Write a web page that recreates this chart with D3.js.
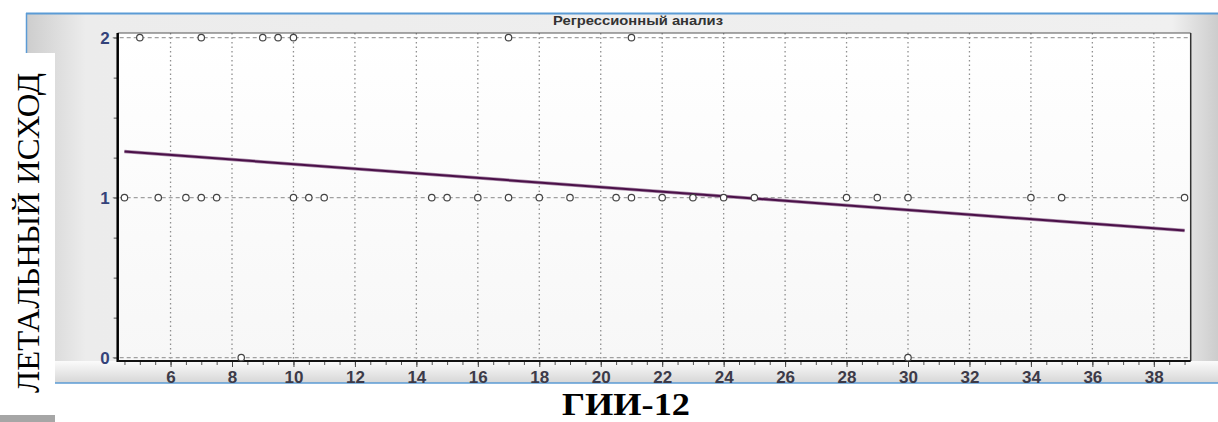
<!DOCTYPE html>
<html>
<head>
<meta charset="utf-8">
<script src="https://cdn.jsdelivr.net/npm/d3@7"></script>
<style>
  body { margin: 0; background: #fff; }
  svg { display: block; }
</style>
</head>
<body>
<script>
// data
var pointsTop = [5, 7, 9, 9.5, 10, 17, 21];                       // outcome = 2
var pointsMid = [4.5, 5.6, 6.5, 7, 7.5, 10, 10.5, 11, 14.5, 15, 16, 17, 18, 19,
                 20.5, 21, 22, 23, 24, 25, 28, 29, 30, 34, 35, 39]; // outcome = 1
var pointsLow = [8.3, 30];                                        // outcome = 0
var regLine = [{x: 4.5, y: 1.288}, {x: 39, y: 0.794}];
var xTicks = [6, 8, 10, 12, 14, 16, 18, 20, 22, 24, 26, 28, 30, 32, 34, 36, 38];
var yTicks = [0, 1, 2];

var width = 1218;
var height = 422;
var svg = d3.select('body')
    .append("svg")
    .attr("width", width)
    .attr("height", height);

var defs = svg.append("defs");
var g1 = defs.append("linearGradient").attr("id", "frameGrad")
    .attr("x1", 0).attr("x2", 1).attr("y1", 0).attr("y2", 0);
g1.append("stop").attr("offset", "0%").attr("stop-color", "#cdcdcd");
g1.append("stop").attr("offset", "5%").attr("stop-color", "#ececec");
g1.append("stop").attr("offset", "96%").attr("stop-color", "#f0f0f0");
g1.append("stop").attr("offset", "100%").attr("stop-color", "#cbcbcb");
var g2 = defs.append("linearGradient").attr("id", "bottomGrad")
    .attr("x1", 0).attr("x2", 0).attr("y1", 0).attr("y2", 1);
g2.append("stop").attr("offset", "0%").attr("stop-color", "#fbfbfb");
g2.append("stop").attr("offset", "100%").attr("stop-color", "#d6d6d6");
var g3 = defs.append("linearGradient").attr("id", "plotGrad")
    .attr("x1", 0).attr("x2", 0).attr("y1", 0).attr("y2", 1);
g3.append("stop").attr("offset", "0%").attr("stop-color", "#ffffff");
g3.append("stop").attr("offset", "100%").attr("stop-color", "#f7f7f7");

// window frame
var frame = {left: 26, top: 13, bottom: 383};
svg.append("rect")
    .attr("x", frame.left).attr("y", frame.top)
    .attr("width", width - frame.left + 2).attr("height", frame.bottom - frame.top)
    .attr("fill", "url(#frameGrad)");
svg.append("rect")
    .attr("x", frame.left).attr("y", 361)
    .attr("width", width - frame.left).attr("height", frame.bottom - 361)
    .attr("fill", "url(#bottomGrad)");
svg.append("line")
    .attr("x1", frame.left).attr("x2", width).attr("y1", frame.top + 0.5).attr("y2", frame.top + 0.5)
    .attr("stroke", "#5b9bd5").attr("stroke-width", 2);
svg.append("line")
    .attr("x1", frame.left).attr("x2", width).attr("y1", frame.bottom).attr("y2", frame.bottom)
    .attr("stroke", "#5b9bd5").attr("stroke-width", 1.5);
svg.append("line")
    .attr("x1", frame.left + 0.5).attr("x2", frame.left + 0.5).attr("y1", frame.top).attr("y2", frame.bottom)
    .attr("stroke", "#5b9bd5").attr("stroke-width", 1.5);

var plot = {left: 117.7, right: 1190.7, top: 33, bottom: 361};

var x = d3.scaleLinear().domain([4.28, 39.2]).range([plot.left, plot.right]);
var y = d3.scaleLinear().domain([-0.021, 2.029]).range([plot.bottom, plot.top]);

svg.append("rect")
    .attr("x", plot.left).attr("y", plot.top)
    .attr("width", plot.right - plot.left).attr("height", plot.bottom - plot.top)
    .attr("fill", "url(#plotGrad)");

svg.append("text")
    .attr("x", 638).attr("y", 25)
    .attr("text-anchor", "middle")
    .attr("font-family", "Liberation Sans, Arial, sans-serif")
    .attr("font-size", 12)
    .attr("font-weight", "bold")
    .attr("fill", "#333")
    .attr("textLength", 170)
    .attr("lengthAdjust", "spacingAndGlyphs")
    .text("Регрессионный анализ");

// grid
svg.append("g").selectAll("line")
    .data(xTicks)
    .enter().append("line")
    .attr("x1", function (d) { return x(d); })
    .attr("x2", function (d) { return x(d); })
    .attr("y1", plot.top).attr("y2", plot.bottom)
    .attr("stroke", "#8f8f8f").attr("stroke-width", 1.3)
    .attr("stroke-dasharray", "1.5,3");
svg.append("g").selectAll("line")
    .data(yTicks)
    .enter().append("line")
    .attr("x1", plot.left - 5).attr("x2", plot.right)
    .attr("y1", function (d) { return y(d); })
    .attr("y2", function (d) { return y(d); })
    .attr("stroke", "#a0a0a0").attr("stroke-width", 1.3)
    .attr("stroke-dasharray", "4,3");

// borders
svg.append("line")
    .attr("x1", plot.left).attr("x2", plot.right).attr("y1", plot.top).attr("y2", plot.top)
    .attr("stroke", "#555").attr("stroke-width", 1);
svg.append("line")
    .attr("x1", plot.right).attr("x2", plot.right).attr("y1", plot.top).attr("y2", plot.bottom)
    .attr("stroke", "#333").attr("stroke-width", 1.5);

// minor ticks
var xMinor = d3.range(4.5, 39.01, 0.5);
var yMinor = d3.range(0, 2.01, 0.25);
svg.append("g")
    .attr("transform", "translate(0," + plot.bottom + ")")
    .call(d3.axisBottom(x).tickValues(xMinor).tickSize(4).tickFormat(""))
    .call(function (g) { g.select(".domain").remove(); })
    .selectAll("line").attr("stroke", "#555");
svg.append("g")
    .attr("transform", "translate(" + plot.left + ",0)")
    .call(d3.axisLeft(y).tickValues(yMinor).tickSize(4).tickFormat(""))
    .call(function (g) { g.select(".domain").remove(); })
    .selectAll("line").attr("stroke", "#555");

// major axes
var xAxisGroup = svg.append("g")
    .attr("transform", "translate(0," + plot.bottom + ")")
    .call(d3.axisBottom(x).tickValues(xTicks).tickSize(6).tickPadding(4).tickFormat(d3.format("d")));
xAxisGroup.select(".domain").remove();
xAxisGroup.selectAll("line").attr("stroke", "#444");
xAxisGroup.attr("font-size", null).attr("font-family", null);
xAxisGroup.selectAll("text")
    .style("font-family", "Liberation Sans, Arial, sans-serif")
    .style("font-size", "17px").style("font-weight", "bold")
    .attr("fill", "#3c3a48");

var yAxisGroup = svg.append("g")
    .attr("transform", "translate(" + plot.left + ",0)")
    .call(d3.axisLeft(y).tickValues(yTicks).tickSize(0).tickPadding(8).tickFormat(d3.format("d")));
yAxisGroup.select(".domain").remove();
yAxisGroup.attr("font-size", null).attr("font-family", null);
yAxisGroup.selectAll("text")
    .style("font-family", "Liberation Sans, Arial, sans-serif")
    .style("font-size", "17px").style("font-weight", "bold")
    .attr("fill", "#34437a");

svg.append("line")
    .attr("x1", plot.left).attr("x2", plot.left).attr("y1", plot.top).attr("y2", plot.bottom + 1)
    .attr("stroke", "#000").attr("stroke-width", 2.5);
svg.append("line")
    .attr("x1", plot.left).attr("x2", plot.right).attr("y1", plot.bottom).attr("y2", plot.bottom)
    .attr("stroke", "#111").attr("stroke-width", 2);

// regression line
var line = d3.line().x(function (d) { return x(d.x); }).y(function (d) { return y(d.y); });
svg.append("path").datum(regLine).attr("d", line)
    .attr("fill", "none").attr("stroke", "#a98aa8").attr("stroke-width", 3.5);
svg.append("path").datum(regLine).attr("d", line)
    .attr("fill", "none").attr("stroke", "#4a1048").attr("stroke-width", 2);

// points
var allPoints = []
    .concat(pointsTop.map(function (v) { return {x: v, y: 2}; }))
    .concat(pointsMid.map(function (v) { return {x: v, y: 1}; }))
    .concat(pointsLow.map(function (v) { return {x: v, y: 0}; }));
svg.append("g").selectAll("circle")
    .data(allPoints)
    .enter().append("circle")
    .attr("cx", function (d) { return x(d.x); })
    .attr("cy", function (d) { return y(d.y); })
    .attr("r", 3.2)
    .attr("fill", "#fff")
    .attr("stroke", "#444")
    .attr("stroke-width", 1.2);

// outer labels
svg.append("rect").attr("x", 0).attr("y", 53).attr("width", 55).attr("height", 362).attr("fill", "#fff");
svg.append("rect").attr("x", 0).attr("y", 415).attr("width", 55).attr("height", 7).attr("fill", "#a6a6a6");

svg.append("text")
    .attr("transform", "translate(39,233) rotate(-90)")
    .attr("text-anchor", "middle")
    .attr("font-family", "Liberation Serif, Times New Roman, serif")
    .attr("font-size", 31)
    .attr("fill", "#000")
    .attr("textLength", 320)
    .attr("lengthAdjust", "spacingAndGlyphs")
    .text("ЛЕТАЛЬНЫЙ ИСХОД");

svg.append("text")
    .attr("x", 626).attr("y", 415)
    .attr("text-anchor", "middle")
    .attr("font-family", "Liberation Serif, Times New Roman, serif")
    .attr("font-size", 31)
    .attr("font-weight", "bold")
    .attr("fill", "#000")
    .attr("textLength", 128)
    .attr("lengthAdjust", "spacingAndGlyphs")
    .text("ГИИ-12");
</script>
</body>
</html>
